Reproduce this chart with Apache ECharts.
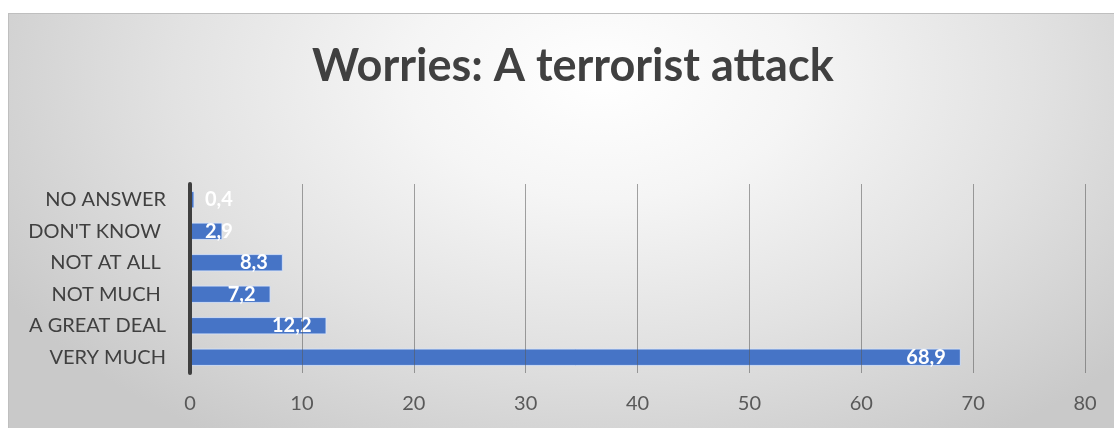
<!DOCTYPE html>
<html>
<head>
<meta charset="utf-8">
<script src="https://cdn.jsdelivr.net/npm/echarts@6/dist/echarts.min.js"></script>
<style>
html,body{margin:0;padding:0;background:#fff;width:1114px;height:428px;overflow:hidden;}
#panel{position:absolute;left:8px;top:13px;width:1120px;height:430px;border:1px solid #bfbfbf;
background:radial-gradient(ellipse 62% 100% at 53% 15%, #ffffff 0%, #f5f5f5 28%, #e2e2e2 62%, #c9c9c9 100%);}
#chart{position:absolute;left:0;top:0;width:1114px;height:428px;}
</style>
</head>
<body>
<div id="panel"></div>
<div id="chart"></div>
<script>
const titleText = 'Worries: A terrorist attack';
const categories = ['VERY MUCH', 'A GREAT DEAL', 'NOT MUCH ', 'NOT AT ALL ', "DON'T KNOW ", 'NO ANSWER'];
const values = [68.9, 12.2, 7.2, 8.3, 2.9, 0.4];
const xTicks = [0, 10, 20, 30, 40, 50, 60, 70, 80];

const fmt = v => String(v).replace('.', ',');
const seriesData = values.map(v => {
  const item = { value: v };
  if (v < 5) {
    item.label = { position: 'insideLeft', distance: 15 };
  }
  return item;
});

const chart = echarts.init(document.getElementById('chart'), null, { renderer: 'canvas' });
chart.setOption({
  backgroundColor: 'transparent',
  animation: false,
  title: {
    text: titleText,
    left: 307,
    top: 39,
    textStyle: { fontFamily: 'Lato', fontWeight: 'bold', fontSize: 45, color: '#404040' }
  },
  grid: { left: 190, right: 29, top: 184, bottom: 55, containLabel: false },
  xAxis: {
    type: 'value',
    z: 3,
    min: xTicks[0],
    max: xTicks[xTicks.length - 1],
    interval: 10,
    axisLine: { show: false },
    axisTick: { show: false },
    axisLabel: { color: '#595959', fontFamily: 'Lato', fontSize: 20, margin: 21 },
    splitLine: { show: true, lineStyle: { color: 'rgba(90,90,90,0.55)', width: 1 } }
  },
  yAxis: {
    type: 'category',
    z: 4,
    data: categories,
    axisLine: { show: true, lineStyle: { color: '#3f3f3f', width: 4 } },
    axisTick: { show: false },
    axisLabel: { color: '#404040', fontFamily: 'Lato', fontSize: 20, margin: 24 }
  },
  series: [{
    type: 'bar',
    data: seriesData,
    barWidth: '55%',
    itemStyle: { color: '#4674C6', borderColor: 'rgba(215,228,250,0.85)', borderWidth: 1 },
    label: {
      show: true,
      position: 'insideRight',
      distance: 15,
      color: '#ffffff',
      fontFamily: 'Lato',
      fontWeight: 'bold',
      fontSize: 20,
      formatter: p => fmt(p.value)
    }
  }]
});
</script>
</body>
</html>
